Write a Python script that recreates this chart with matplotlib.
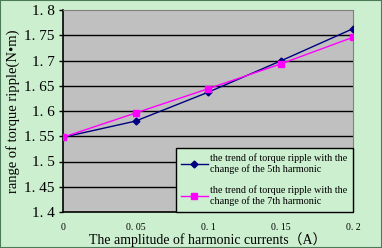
import numpy as np
import matplotlib
matplotlib.use('Agg')
import matplotlib.pyplot as plt
from matplotlib.patches import Rectangle

# data
amplitude = [0, 0.05, 0.1, 0.15, 0.2]
ripple_5th = [1.548, 1.580, 1.637, 1.699, 1.763]
ripple_7th = [1.548, 1.596, 1.644, 1.693, 1.746]
xticks = [0, 0.05, 0.1, 0.15, 0.2]
xticklabels = ['0', '0. 05', '0. 1', '0. 15', '0. 2']
yticks = [1.4, 1.45, 1.5, 1.55, 1.6, 1.65, 1.7, 1.75, 1.8]
yticklabels = ['1. 4', '1. 45', '1. 5', '1. 55', '1. 6', '1. 65', '1. 7', '1. 75', '1. 8']

plt.rcParams['font.family'] = ['Liberation Serif', 'DejaVu Serif']

bg = '#ccefcf'
fig = plt.figure(figsize=(3.82, 2.48), dpi=100, facecolor=bg)
ax = fig.add_axes([63/382, 36/248, 290/382, 202/248])
ax.set_facecolor('#c0c0c0')

for y in yticks[1:-1]:
    ax.axhline(y, color='black', linewidth=1.0, zorder=1)

ax.plot(amplitude, ripple_5th, color='#000080', marker='D', markersize=3.5,
        linewidth=1.0, label='the trend of torque ripple with the\nchange of the 5th harmonic', zorder=3)
ax.plot(amplitude, ripple_7th, color='#ff00ff', marker='s', markersize=4,
        linewidth=1.0, label='the trend of torque ripple with the\nchange of the 7th harmonic', zorder=3)

ax.set_xlim(0, 0.2)
ax.set_ylim(1.4, 1.8)
ax.set_xticks(xticks)
ax.set_xticklabels(xticklabels, fontsize=7)
ax.set_yticks(yticks)
ax.set_yticklabels(yticklabels, fontsize=11)
ax.tick_params(axis='x', length=0, pad=8)
ax.tick_params(axis='y', length=3, width=1, direction='out', pad=3)

for s in ['top', 'right']:
    ax.spines[s].set_color('#808080')
for s in ['left', 'bottom']:
    ax.spines[s].set_color('black')
    ax.spines[s].set_linewidth(1.2)

# x label placed by hand so the CJK brackets do not push it off the bottom
fig.text(208/382, 8/248, 'The amplitude of harmonic currents（A）', fontsize=10,
         ha='center', va='center', family=['Liberation Serif', 'Noto Sans CJK SC'])
ax.set_ylabel('range of torque ripple(N•m)', fontsize=10.5, labelpad=3)

leg = ax.legend(loc='lower right', bbox_to_anchor=(1.0, 0.0), borderaxespad=0,
                fontsize=7.3, frameon=True, fancybox=False, handlelength=2.6,
                handletextpad=0.25, labelspacing=1.1, borderpad=0.55)
leg.get_frame().set_facecolor(bg)
leg.get_frame().set_edgecolor('black')
leg.get_frame().set_linewidth(1.0)
leg.get_frame().set_alpha(1)

fig.patches.append(Rectangle((0, 0), 1, 1, transform=fig.transFigure, fill=False,
                             edgecolor='#4a7a5a', linewidth=1.5))

fig.savefig('out.png', dpi=100, facecolor=bg)
